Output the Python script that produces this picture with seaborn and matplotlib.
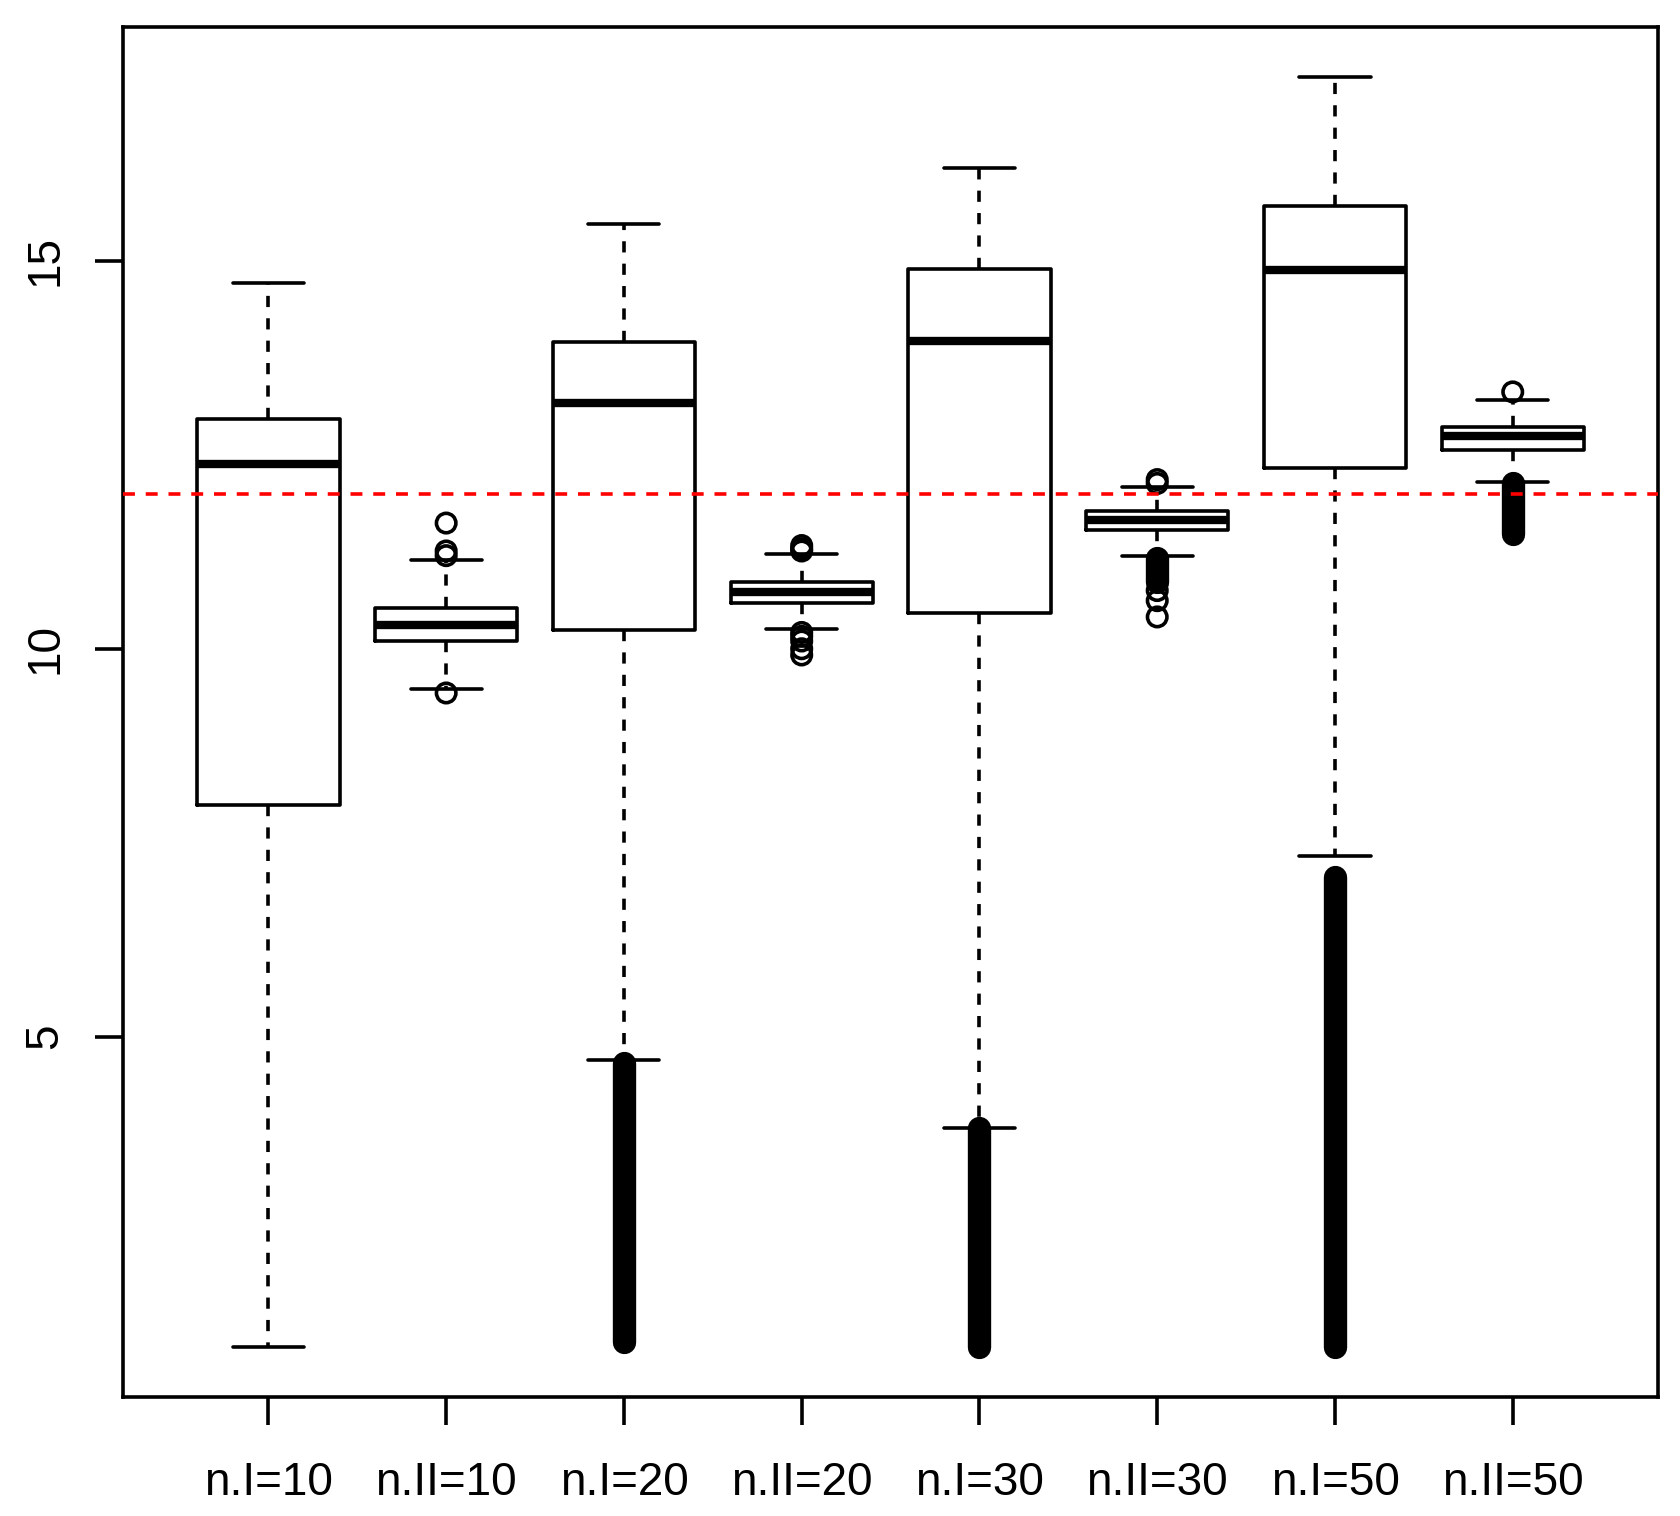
import numpy as np
import pandas as pd
import matplotlib
matplotlib.use("Agg")
import matplotlib.pyplot as plt
import seaborn as sns

# ---------------- data ----------------
categories = ["n.I=10", "n.II=10", "n.I=20", "n.II=20",
              "n.I=30", "n.II=30", "n.I=50", "n.II=50"]
whisker_low  = [1.00, 9.48, 4.70, 10.25, 3.83, 11.20, 7.33, 12.15]
q1           = [7.98, 10.10, 10.24, 10.59, 10.46, 11.53, 12.33, 12.56]
median       = [12.38, 10.31, 13.17, 10.73, 13.97, 11.66, 14.88, 12.74]
q3           = [12.96, 10.53, 13.95, 10.86, 14.89, 11.77, 15.71, 12.86]
whisker_high = [14.71, 11.14, 15.47, 11.22, 16.19, 12.09, 17.37, 13.21]

# individual outliers (category, value)
outlier_cat = ["n.II=10", "n.II=10", "n.II=10", "n.II=10",
               "n.II=20", "n.II=20", "n.II=20", "n.II=20", "n.II=20", "n.II=20", "n.II=20", "n.II=20",
               "n.II=30", "n.II=30", "n.II=30", "n.II=30", "n.II=30",
               "n.II=50"]
outlier_val = [11.62, 11.26, 11.20, 9.43,
               11.33, 11.29, 11.26, 10.21, 10.16, 10.10, 10.00, 9.92,
               12.18, 12.13, 10.75, 10.62, 10.41,
               13.31]

# ranges densely packed with outlier circles (category, low, high)
dense_cat  = ["n.I=20", "n.I=30", "n.I=50", "n.II=30", "n.II=50"]
dense_low  = [1.07, 1.00, 1.00, 10.86, 11.48]
dense_high = [4.66, 3.83, 7.06, 11.17, 12.13]

ref_line = 12.0
y_ticks = [5, 10, 15]

# ---------------- figure ----------------
sns.set_style("white")
plt.rcParams["font.family"] = ["Liberation Sans", "DejaVu Sans"]

fig = plt.figure(figsize=(16.8, 15.16), dpi=100)
ax = fig.add_axes([0.0730, 0.0787, 0.9142, 0.9036])

# five-number summary per category -> seaborn boxplot with whis=inf
rows = []
for c, a, b, m, d, e in zip(categories, whisker_low, q1, median, q3, whisker_high):
    for v in (a, b, m, d, e):
        rows.append({"group": c, "value": v})
df = pd.DataFrame(rows)

LW = 2.6
DASH = (0, (3.1, 3.1))
sns.boxplot(data=df, x="group", y="value", order=categories, whis=np.inf,
            width=0.8, fill=False, color="black", linewidth=LW,
            showfliers=False,
            medianprops={"linewidth": 6.0, "color": "black", "solid_capstyle": "butt"},
            whiskerprops={"linestyle": DASH, "color": "black"},
            capprops={"color": "black"},
            boxprops={"color": "black", "solid_joinstyle": "round"},
            ax=ax)

pos = {c: i for i, c in enumerate(categories)}

# dense outlier columns
ax.vlines([pos[c] for c in dense_cat], dense_low, dense_high,
          colors="black", linewidth=16.8, capstyle="round", zorder=3)

# individual outliers
ax.scatter([pos[c] for c in outlier_cat], outlier_val, s=14.0 ** 2,
           facecolors="none", edgecolors="black", linewidths=LW, zorder=4)

# reference line
ax.axhline(ref_line, color="red", linewidth=LW, linestyle=(0, (3.3, 3.0)), zorder=5)

ax.set_xlim(-0.82, 7.82)
ax.set_ylim(0.361, 18.015)
ax.set_xlabel("")
ax.set_ylabel("")
ax.set_xticks(range(len(categories)))
ax.set_xticklabels(categories)
ax.set_yticks(y_ticks)
ax.set_yticklabels([str(t) for t in y_ticks], rotation=90, va="center")

for s in ax.spines.values():
    s.set_visible(True)
    s.set_color("black")
    s.set_linewidth(LW)

ax.tick_params(axis="both", which="major", direction="out", length=20, width=LW,
               color="black", labelsize=33, labelcolor="black",
               bottom=True, left=True, top=False, right=False)
ax.tick_params(axis="x", pad=26)
ax.tick_params(axis="y", pad=20)

fig.savefig("out.png", dpi=100, facecolor="white")
